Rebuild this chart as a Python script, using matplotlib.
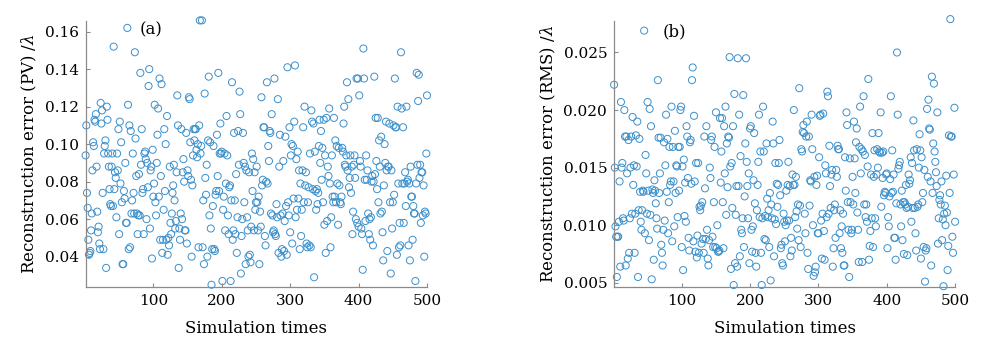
import numpy as np
import matplotlib
matplotlib.use("Agg")
import matplotlib.pyplot as plt

# reconstruction error, PV (panel a) in index order
pv_error = [
    0.094, 0.110, 0.074, 0.066, 0.049, 0.041, 0.042, 0.043, 0.054, 0.063, 0.086, 0.101, 0.099, 0.113, 0.112, 0.116, 0.088, 0.064, 0.053, 0.056, 0.047, 0.044, 0.122, 0.111, 0.118,
    0.074, 0.044, 0.095, 0.099, 0.102, 0.034, 0.120, 0.113, 0.095, 0.088, 0.076, 0.068, 0.067, 0.088, 0.095, 0.067, 0.152, 0.076, 0.085, 0.082, 0.061, 0.095, 0.086, 0.108, 0.052,
    0.112, 0.079, 0.101, 0.069, 0.036, 0.036, 0.075, 0.071, 0.090, 0.058, 0.058, 0.162, 0.121, 0.044, 0.110, 0.045, 0.107, 0.063, 0.070, 0.095, 0.074, 0.063, 0.149, 0.103, 0.083,
    0.063, 0.052, 0.062, 0.084, 0.062, 0.138, 0.089, 0.108, 0.074, 0.076, 0.052, 0.095, 0.096, 0.092, 0.060, 0.090, 0.077, 0.131, 0.140, 0.055, 0.086, 0.088, 0.039, 0.097, 0.072,
    0.079, 0.121, 0.069, 0.062, 0.090, 0.105, 0.119, 0.072, 0.135, 0.049, 0.083, 0.132, 0.042, 0.049, 0.065, 0.108, 0.075, 0.100, 0.049, 0.115, 0.041, 0.050, 0.046, 0.088, 0.058,
    0.052, 0.063, 0.074, 0.078, 0.089, 0.070, 0.055, 0.059, 0.085, 0.126, 0.110, 0.034, 0.055, 0.049, 0.063, 0.108, 0.060, 0.085, 0.092, 0.080, 0.054, 0.054, 0.106, 0.047, 0.086,
    0.083, 0.125, 0.124, 0.101, 0.081, 0.040, 0.078, 0.094, 0.108, 0.102, 0.108, 0.108, 0.097, 0.093, 0.100, 0.045, 0.110, 0.166, 0.095, 0.099, 0.166, 0.045, 0.070, 0.036, 0.127,
    0.082, 0.073, 0.089, 0.040, 0.102, 0.136, 0.062, 0.101, 0.055, 0.025, 0.044, 0.067, 0.099, 0.044, 0.043, 0.073, 0.075, 0.105, 0.083, 0.138, 0.075, 0.095, 0.111, 0.095, 0.096,
    0.027, 0.065, 0.072, 0.095, 0.054, 0.079, 0.115, 0.094, 0.062, 0.052, 0.077, 0.078, 0.027, 0.070, 0.133, 0.049, 0.054, 0.106, 0.070, 0.052, 0.084, 0.042, 0.061, 0.107, 0.089,
    0.128, 0.116, 0.031, 0.051, 0.060, 0.106, 0.090, 0.069, 0.088, 0.036, 0.086, 0.061, 0.054, 0.040, 0.085, 0.041, 0.037, 0.056, 0.095, 0.075, 0.092, 0.054, 0.085, 0.065, 0.069,
    0.088, 0.069, 0.054, 0.072, 0.036, 0.064, 0.056, 0.125, 0.078, 0.081, 0.109, 0.109, 0.051, 0.046, 0.080, 0.133, 0.079, 0.099, 0.091, 0.107, 0.106, 0.063, 0.116, 0.062, 0.053,
    0.054, 0.135, 0.052, 0.051, 0.068, 0.061, 0.124, 0.042, 0.088, 0.105, 0.062, 0.040, 0.044, 0.063, 0.091, 0.043, 0.059, 0.104, 0.067, 0.041, 0.141, 0.069, 0.062, 0.109, 0.053,
    0.094, 0.100, 0.047, 0.099, 0.071, 0.112, 0.142, 0.061, 0.092, 0.065, 0.096, 0.071, 0.086, 0.044, 0.079, 0.051, 0.065, 0.086, 0.109, 0.069, 0.120, 0.078, 0.085, 0.047, 0.045,
    0.069, 0.077, 0.046, 0.095, 0.045, 0.118, 0.112, 0.076, 0.111, 0.029, 0.096, 0.075, 0.065, 0.076, 0.068, 0.074, 0.099, 0.113, 0.090, 0.107, 0.081, 0.098, 0.069, 0.113, 0.057,
    0.094, 0.042, 0.114, 0.059, 0.088, 0.083, 0.119, 0.079, 0.045, 0.061, 0.094, 0.072, 0.069, 0.114, 0.072, 0.102, 0.069, 0.099, 0.079, 0.057, 0.098, 0.078, 0.069, 0.068, 0.072,
    0.098, 0.096, 0.111, 0.120, 0.089, 0.088, 0.094, 0.133, 0.086, 0.124, 0.077, 0.082, 0.094, 0.074, 0.088, 0.052, 0.064, 0.089, 0.094, 0.082, 0.060, 0.135, 0.058, 0.135, 0.056,
    0.126, 0.091, 0.088, 0.055, 0.052, 0.033, 0.151, 0.135, 0.081, 0.059, 0.094, 0.081, 0.086, 0.063, 0.052, 0.060, 0.049, 0.061, 0.080, 0.083, 0.046, 0.080, 0.136, 0.084, 0.114,
    0.091, 0.076, 0.114, 0.069, 0.102, 0.088, 0.063, 0.104, 0.064, 0.053, 0.038, 0.078, 0.100, 0.090, 0.112, 0.086, 0.043, 0.088, 0.088, 0.111, 0.069, 0.031, 0.086, 0.055, 0.069,
    0.110, 0.073, 0.135, 0.109, 0.109, 0.041, 0.120, 0.079, 0.045, 0.058, 0.046, 0.149, 0.119, 0.079, 0.109, 0.058, 0.079, 0.085, 0.067, 0.120, 0.080, 0.081, 0.046, 0.079, 0.038,
    0.088, 0.072, 0.072, 0.049, 0.067, 0.063, 0.063, 0.027, 0.079, 0.138, 0.089, 0.123, 0.137, 0.082, 0.089, 0.058, 0.085, 0.085, 0.062, 0.078, 0.040, 0.064, 0.063, 0.095, 0.126,
]

# reconstruction error, RMS (panel b)
rms_error = [
    0.0222, 0.0150, 0.0099, 0.0090, 0.0055, 0.0090, 0.0090, 0.0103, 0.0138, 0.0064, 0.0207, 0.0150, 0.0154, 0.0106, 0.0104, 0.0200, 0.0177, 0.0065, 0.0177, 0.0145, 0.0071, 0.0174, 0.0076, 0.0106, 0.0150,
    0.0177, 0.0110, 0.0194, 0.0135, 0.0152, 0.0076, 0.0110, 0.0178, 0.0151, 0.0190, 0.0055, 0.0113, 0.0175, 0.0129, 0.0103, 0.0096, 0.0113, 0.0130, 0.0129, 0.0269, 0.0093, 0.0161, 0.0145, 0.0110, 0.0207,
    0.0130, 0.0087, 0.0201, 0.0109, 0.0186, 0.0053, 0.0131, 0.0128, 0.0070, 0.0139, 0.0130, 0.0119, 0.0106, 0.0097, 0.0226, 0.0176, 0.0128, 0.0145, 0.0176, 0.0083, 0.0076, 0.0065, 0.0096, 0.0172, 0.0104,
    0.0152, 0.0196, 0.0129, 0.0175, 0.0093, 0.0120, 0.0168, 0.0135, 0.0138, 0.0203, 0.0086, 0.0168, 0.0138, 0.0099, 0.0182, 0.0128, 0.0152, 0.0151, 0.0107, 0.0168, 0.0130, 0.0168, 0.0200, 0.0203, 0.0081,
    0.0151, 0.0061, 0.0157, 0.0108, 0.0137, 0.0103, 0.0186, 0.0177, 0.0141, 0.0089, 0.0078, 0.0172, 0.0174, 0.0136, 0.0226, 0.0237, 0.0086, 0.0195, 0.0138, 0.0077, 0.0154, 0.0072, 0.0091, 0.0154, 0.0076,
    0.0116, 0.0113, 0.0117, 0.0084, 0.0120, 0.0088, 0.0076, 0.0177, 0.0132, 0.0088, 0.0186, 0.0096, 0.0071, 0.0065, 0.0087, 0.0150, 0.0141, 0.0174, 0.0177, 0.0090, 0.0081, 0.0120, 0.0168, 0.0081, 0.0198,
    0.0080, 0.0100, 0.0077, 0.0077, 0.0078, 0.0193, 0.0137, 0.0164, 0.0193, 0.0120, 0.0080, 0.0186, 0.0145, 0.0203, 0.0109, 0.0171, 0.0133, 0.0177, 0.0176, 0.0246, 0.0151, 0.0062, 0.0154, 0.0115, 0.0186,
    0.0048, 0.0214, 0.0067, 0.0109, 0.0134, 0.0064, 0.0245, 0.0134, 0.0196, 0.0073, 0.0160, 0.0096, 0.0093, 0.0106, 0.0213, 0.0081, 0.0125, 0.0171, 0.0245, 0.0155, 0.0134, 0.0106, 0.0145, 0.0067, 0.0184,
    0.0186, 0.0096, 0.0077, 0.0099, 0.0139, 0.0180, 0.0119, 0.0076, 0.0064, 0.0113, 0.0135, 0.0155, 0.0196, 0.0107, 0.0164, 0.0076, 0.0048, 0.0106, 0.0203, 0.0164, 0.0088, 0.0108, 0.0087, 0.0171, 0.0123,
    0.0107, 0.0113, 0.0081, 0.0128, 0.0052, 0.0118, 0.0106, 0.0190, 0.0171, 0.0073, 0.0105, 0.0154, 0.0101, 0.0136, 0.0116, 0.0135, 0.0154, 0.0174, 0.0126, 0.0080, 0.0083, 0.0067, 0.0065, 0.0110, 0.0103,
    0.0086, 0.0100, 0.0130, 0.0104, 0.0135, 0.0155, 0.0104, 0.0134, 0.0073, 0.0089, 0.0078, 0.0144, 0.0135, 0.0200, 0.0135, 0.0107, 0.0142, 0.0112, 0.0097, 0.0118, 0.0087, 0.0219, 0.0117, 0.0081, 0.0166,
    0.0164, 0.0181, 0.0187, 0.0180, 0.0110, 0.0093, 0.0177, 0.0190, 0.0076, 0.0062, 0.0177, 0.0117, 0.0139, 0.0138, 0.0196, 0.0166, 0.0100, 0.0056, 0.0142, 0.0059, 0.0064, 0.0135, 0.0143, 0.0093, 0.0093,
    0.0159, 0.0195, 0.0196, 0.0104, 0.0071, 0.0110, 0.0197, 0.0095, 0.0070, 0.0152, 0.0145, 0.0107, 0.0216, 0.0212, 0.0110, 0.0169, 0.0134, 0.0115, 0.0144, 0.0148, 0.0064, 0.0080, 0.0113, 0.0118, 0.0089,
    0.0148, 0.0142, 0.0169, 0.0166, 0.0166, 0.0093, 0.0113, 0.0080, 0.0099, 0.0076, 0.0110, 0.0065, 0.0065, 0.0159, 0.0130, 0.0198, 0.0187, 0.0120, 0.0096, 0.0055, 0.0158, 0.0120, 0.0093, 0.0096, 0.0142,
    0.0118, 0.0190, 0.0158, 0.0128, 0.0172, 0.0184, 0.0111, 0.0096, 0.0068, 0.0168, 0.0203, 0.0145, 0.0166, 0.0068, 0.0164, 0.0212, 0.0118, 0.0161, 0.0107, 0.0118, 0.0103, 0.0151, 0.0227, 0.0070, 0.0082,
    0.0095, 0.0144, 0.0106, 0.0180, 0.0081, 0.0142, 0.0165, 0.0106, 0.0099, 0.0144, 0.0166, 0.0150, 0.0180, 0.0164, 0.0163, 0.0198, 0.0116, 0.0163, 0.0141, 0.0164, 0.0126, 0.0129, 0.0128, 0.0144, 0.0145,
    0.0080, 0.0107, 0.0099, 0.0125, 0.0140, 0.0212, 0.0128, 0.0165, 0.0129, 0.0144, 0.0089, 0.0089, 0.0070, 0.0119, 0.0250, 0.0196, 0.0149, 0.0152, 0.0155, 0.0118, 0.0099, 0.0130, 0.0087, 0.0120, 0.0075,
    0.0120, 0.0118, 0.0135, 0.0115, 0.0074, 0.0116, 0.0144, 0.0136, 0.0139, 0.0159, 0.0103, 0.0154, 0.0115, 0.0191, 0.0165, 0.0115, 0.0093, 0.0078, 0.0166, 0.0116, 0.0118, 0.0150, 0.0179, 0.0165, 0.0071,
    0.0159, 0.0120, 0.0128, 0.0081, 0.0148, 0.0051, 0.0078, 0.0080, 0.0201, 0.0142, 0.0209, 0.0184, 0.0183, 0.0138, 0.0065, 0.0229, 0.0128, 0.0171, 0.0223, 0.0164, 0.0155, 0.0146, 0.0134, 0.0198, 0.0084,
    0.0106, 0.0122, 0.0126, 0.0118, 0.0138, 0.0087, 0.0105, 0.0047, 0.0110, 0.0117, 0.0100, 0.0143, 0.0111, 0.0061, 0.0082, 0.0178, 0.0128, 0.0279, 0.0177, 0.0177, 0.0090, 0.0076, 0.0144, 0.0202, 0.0103,
]

xticks = [100, 200, 300, 400, 500]
pv_ticks = [0.04, 0.06, 0.08, 0.10, 0.12, 0.14, 0.16]
rms_ticks = [0.005, 0.010, 0.015, 0.020, 0.025]

plt.rcParams["font.family"] = ["DejaVu Serif"]
plt.rcParams["mathtext.fontset"] = "dejavuserif"

MARKER_COLOR = "#3b8fcb"
AXIS_COLOR = "#8a8a8a"


def style_axes(ax):
    for side in ("top", "right"):
        ax.spines[side].set_visible(False)
    for side in ("left", "bottom"):
        ax.spines[side].set_color(AXIS_COLOR)
        ax.spines[side].set_linewidth(0.9)
    ax.tick_params(direction="in", length=3, color=AXIS_COLOR, labelsize=11,
                   labelcolor="black", pad=5)


fig = plt.figure(figsize=(10, 3.51), dpi=100)

ax1 = fig.add_axes([0.0856, 0.1823, 0.3414, 0.758])
x1 = np.arange(1, len(pv_error) + 1)
ax1.scatter(x1, pv_error, s=26, facecolors="none", edgecolors=MARKER_COLOR,
            linewidths=0.7, clip_on=False)
ax1.set_xlim(1, 500)
ax1.set_ylim(0.0238, 0.1657)
ax1.set_xticks(xticks)
ax1.set_yticks(pv_ticks)
ax1.set_yticklabels([f"{t:.2f}" for t in pv_ticks])
ax1.set_xlabel("Simulation times", fontsize=12, labelpad=9)
ax1.set_ylabel(r"Reconstruction error (PV) /$\lambda$", fontsize=12)
ax1.text(97, 0.1612, "(a)", fontsize=12, ha="center", va="center")
style_axes(ax1)

ax2 = fig.add_axes([0.6141, 0.1823, 0.341, 0.758])
x2 = np.arange(1, len(rms_error) + 1)
ax2.scatter(x2, rms_error, s=26, facecolors="none", edgecolors=MARKER_COLOR,
            linewidths=0.7, clip_on=False)
ax2.set_xlim(1, 500)
ax2.set_ylim(0.00463, 0.02774)
ax2.set_xticks(xticks)
ax2.set_yticks(rms_ticks)
ax2.set_yticklabels([f"{t:.3f}" for t in rms_ticks])
ax2.set_xlabel("Simulation times", fontsize=12, labelpad=9)
ax2.set_ylabel(r"Reconstruction error (RMS) /$\lambda$", fontsize=12)
ax2.text(90, 0.0268, "(b)", fontsize=12, ha="center", va="center")
style_axes(ax2)

fig.savefig("out.png", dpi=100)
